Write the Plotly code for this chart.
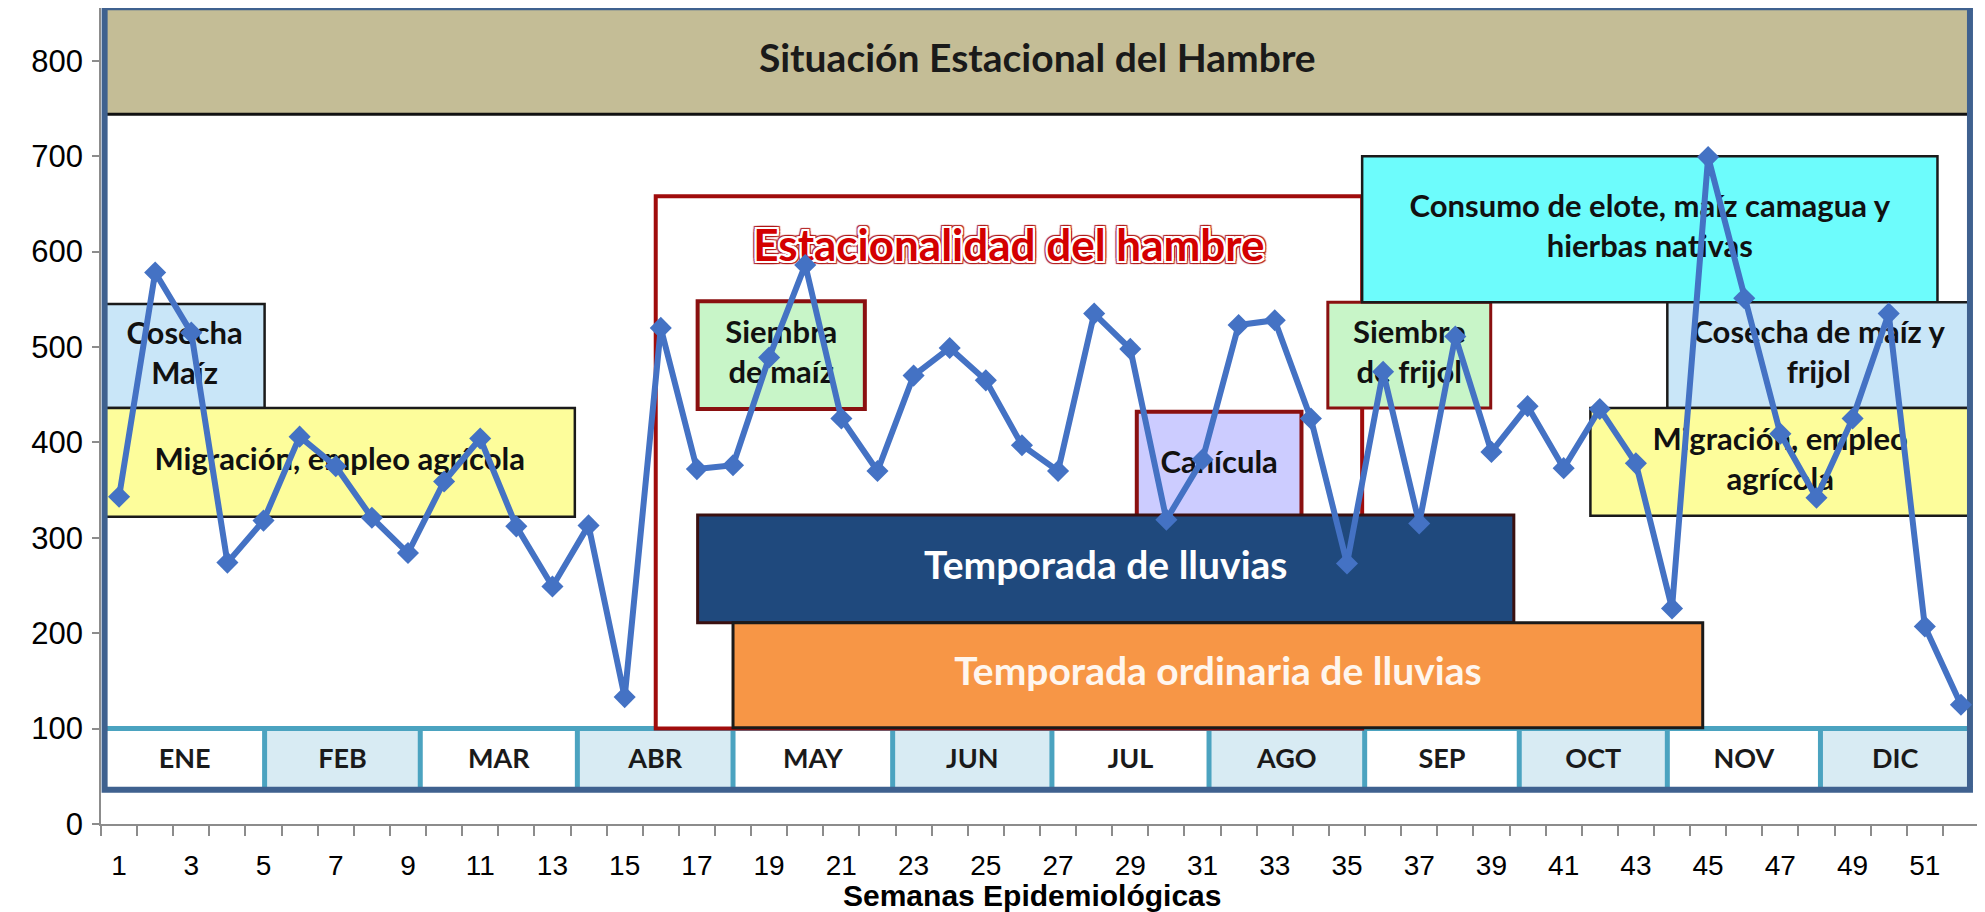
import plotly.graph_objects as go

# ---------------- data ----------------
weeks = list(range(1, 53))
cases = [343, 578, 515, 274, 318, 406, 375, 321, 284, 359,
         404, 312, 249, 313, 133, 520, 372, 376, 489, 586,
         425, 370, 470, 499, 465, 397, 370, 535, 498, 319,
         382, 523, 528, 425, 273, 474, 315, 511, 390, 438,
         373, 435, 378, 226, 699, 551, 409, 342, 425, 535,
         207, 125]
x_tick_vals = list(range(1, 53, 2))
x_tick_labels = [str(v) for v in x_tick_vals]
y_tick_vals = [0, 100, 200, 300, 400, 500, 600, 700, 800]
months = ["ENE", "FEB", "MAR", "ABR", "MAY", "JUN",
          "JUL", "AGO", "SEP", "OCT", "NOV", "DIC"]
title_band = "Situación Estacional del Hambre"
x_title = "Semanas Epidemiológicas"

# ---------------- layout geometry (data units) ----------------
FX0, FX1 = 0.6, 52.25          # frame left/right
FY0, FY1 = 36, 856             # frame bottom/top
BAND_Y0 = 744                  # bottom of the title band
STRIP_Y1 = 100                 # top of the month strip
MONTH_EDGES = [FX0, 5.03, 9.34, 13.69, 18.0, 22.42, 26.83,
               31.18, 35.49, 39.77, 43.87, 48.11, FX1]

LAT = "Lato, 'Open Sans', sans-serif"
ARIAL = "'Liberation Sans', Arial, sans-serif"

# boxes: (x0, x1, y0, y1, fill, line color, line width, label, font color, font size)
boxes = [
    (FX0, 5.03, 436, 545, "#c9e6f8", "#1a1a1a", 2.5, "Cosecha<br>Maíz", "#111", 31),
    (FX0, 13.62, 322, 436, "#fdfd9b", "#1a1a1a", 2.5, "Migración, empleo agrícola", "#111", 31),
    (15.86, 35.42, 100, 658, "#ffffff", "#a00c0c", 4, None, None, None),
    (17.02, 21.65, 435, 548, "#c8f5c8", "#8a1010", 4, "Siembra<br>de maíz", "#111", 31),
    (29.18, 33.74, 320, 432, "#ccccff", "#8a1010", 4, "Canícula", "#111", 31),
    (17.02, 39.62, 211, 324, "#1f497d", "#3a1010", 3, "Temporada de lluvias", "#ffffff", 39),
    (18.0, 44.85, 101, 211, "#f79646", "#1a1a1a", 3, "Temporada ordinaria de lluvias", "#fff6ee", 39),
    (34.47, 38.98, 436, 547, "#c8f5c8", "#8a1010", 3, "Siembre<br>de frijol", "#111", 31),
    (35.42, 51.35, 547, 700, "#6dfcfc", "#1a1a1a", 2.5, "Consumo de elote, maíz camagua y<br>hierbas nativas", "#111", 31),
    (43.87, FX1, 436, 547, "#c9e6f8", "#1a1a1a", 2.5, "Cosecha de maíz y<br>frijol", "#111", 31),
    (41.74, FX1, 323, 436, "#fdfd9b", "#1a1a1a", 2.5, "Migración, empleo<br>agrícola", "#111", 31),
]

shapes = []
# title band
shapes.append(dict(type="rect", xref="x", yref="y", x0=FX0, x1=FX1, y0=BAND_Y0, y1=FY1,
                   fillcolor="#c4bd96", line=dict(width=0), layer="below"))
shapes.append(dict(type="line", xref="x", yref="y", x0=FX0, x1=FX1, y0=BAND_Y0, y1=BAND_Y0,
                   line=dict(color="#111", width=3), layer="below"))
# month strip cells
for i in range(12):
    shapes.append(dict(type="rect", xref="x", yref="y",
                       x0=MONTH_EDGES[i], x1=MONTH_EDGES[i + 1], y0=FY0, y1=STRIP_Y1,
                       fillcolor="#ffffff" if i % 2 == 0 else "#d8ebf3",
                       line=dict(width=0), layer="below"))
for e in MONTH_EDGES[1:-1]:
    shapes.append(dict(type="line", xref="x", yref="y", x0=e, x1=e, y0=FY0, y1=STRIP_Y1,
                       line=dict(color="#4ba3c0", width=5), layer="below"))
shapes.append(dict(type="line", xref="x", yref="y", x0=FX0, x1=FX1, y0=STRIP_Y1, y1=STRIP_Y1,
                   line=dict(color="#4ba3c0", width=5), layer="below"))
# boxes
for (x0, x1, y0, y1, fc, lc, lw, *_rest) in boxes:
    shapes.append(dict(type="rect", xref="x", yref="y", x0=x0, x1=x1, y0=y0, y1=y1,
                       fillcolor=fc, line=dict(color=lc, width=lw), layer="below"))
# outer frame
shapes.append(dict(type="rect", xref="x", yref="y", x0=FX0, x1=FX1, y0=FY0, y1=FY1,
                   fillcolor="rgba(0,0,0,0)", line=dict(color="#3f618f", width=6), layer="below"))

fig = go.Figure()

# box labels as text traces (drawn beneath the data line)
for (x0, x1, y0, y1, fc, lc, lw, label, tc, ts) in boxes:
    if label is None:
        continue
    fig.add_trace(go.Scatter(x=[(x0 + x1) / 2], y=[(y0 + y1) / 2], mode="text",
                             text=[label], textposition="middle center",
                             textfont=dict(family=LAT, size=ts, color=tc, weight="bold"),
                             hoverinfo="skip", showlegend=False))

red_box = boxes[2]
glow = ", ".join(f"{dx}px {dy}px 0 #fff" for dx, dy in
                 [(2, 0), (-2, 0), (0, 2), (0, -2), (2, 2), (-2, -2), (2, -2), (-2, 2)])
edge = ", ".join(f"{dx}px {dy}px 1px #b01818" for dx, dy in
                 [(3, 0), (-3, 0), (0, 3), (0, -3), (3, 3), (-3, -3), (3, -3), (-3, 3)])
fig.add_trace(go.Scatter(x=[(red_box[0] + red_box[1]) / 2], y=[602], mode="text",
                         text=["Estacionalidad del hambre"], textposition="middle center",
                         textfont=dict(family=LAT, size=44, color="#d40000", weight="bold",
                                       shadow=glow + ", " + edge),
                         hoverinfo="skip", showlegend=False))

fig.add_trace(go.Scatter(x=[(FX0 + FX1) / 2], y=[(BAND_Y0 + FY1) / 2 - 2], mode="text",
                         text=[title_band], textposition="middle center",
                         textfont=dict(family=LAT, size=39, color="#1a1a1a", weight="bold"),
                         hoverinfo="skip", showlegend=False))

month_centers = [(MONTH_EDGES[i] + MONTH_EDGES[i + 1]) / 2 for i in range(12)]
fig.add_trace(go.Scatter(x=month_centers, y=[66] * 12, mode="text", text=months,
                         textposition="middle center",
                         textfont=dict(family=LAT, size=27, color="#1a1a1a", weight="bold"),
                         hoverinfo="skip", showlegend=False))

# data line
fig.add_trace(go.Scatter(x=weeks, y=cases, mode="lines+markers",
                         line=dict(color="#4472c4", width=6),
                         marker=dict(symbol="diamond", size=17, color="#4472c4"),
                         showlegend=False))

fig.update_layout(
    width=1977, height=904,
    margin=dict(l=93, r=6, t=0, b=88),
    paper_bgcolor="white", plot_bgcolor="white",
    shapes=shapes,
    font=dict(family=ARIAL, color="#000"),
    annotations=[dict(text="<b>" + x_title + "</b>", xref="paper", yref="paper",
                      x=0.496, y=-0.0882, xanchor="center", yanchor="middle",
                      showarrow=False, font=dict(family=ARIAL, size=30, color="#000"))],
    xaxis=dict(range=[0.5, 52.5], tickmode="array", tickvals=x_tick_vals, ticktext=x_tick_labels,
               ticks="", showgrid=False, zeroline=False, showline=True,
               linecolor="#8c8c8c", linewidth=1.5, automargin=False,
               tickfont=dict(family=ARIAL, size=28, color="#000"),
               ticklabelstandoff=16,
               minor=dict(tickmode="linear", tick0=0.5, dtick=1, ticks="outside",
                          ticklen=10, tickwidth=1.5, tickcolor="#8c8c8c", showgrid=False)),
    yaxis=dict(range=[0, 855.3], tickmode="array", tickvals=y_tick_vals,
               ticks="outside", ticklen=7, tickwidth=1.5, tickcolor="#8c8c8c",
               showgrid=False, zeroline=False, showline=True,
               linecolor="#8c8c8c", linewidth=1.5, automargin=False,
               tickfont=dict(family=ARIAL, size=31, color="#000"),
               ticklabelstandoff=3),
)

fig.write_html("out.html")
